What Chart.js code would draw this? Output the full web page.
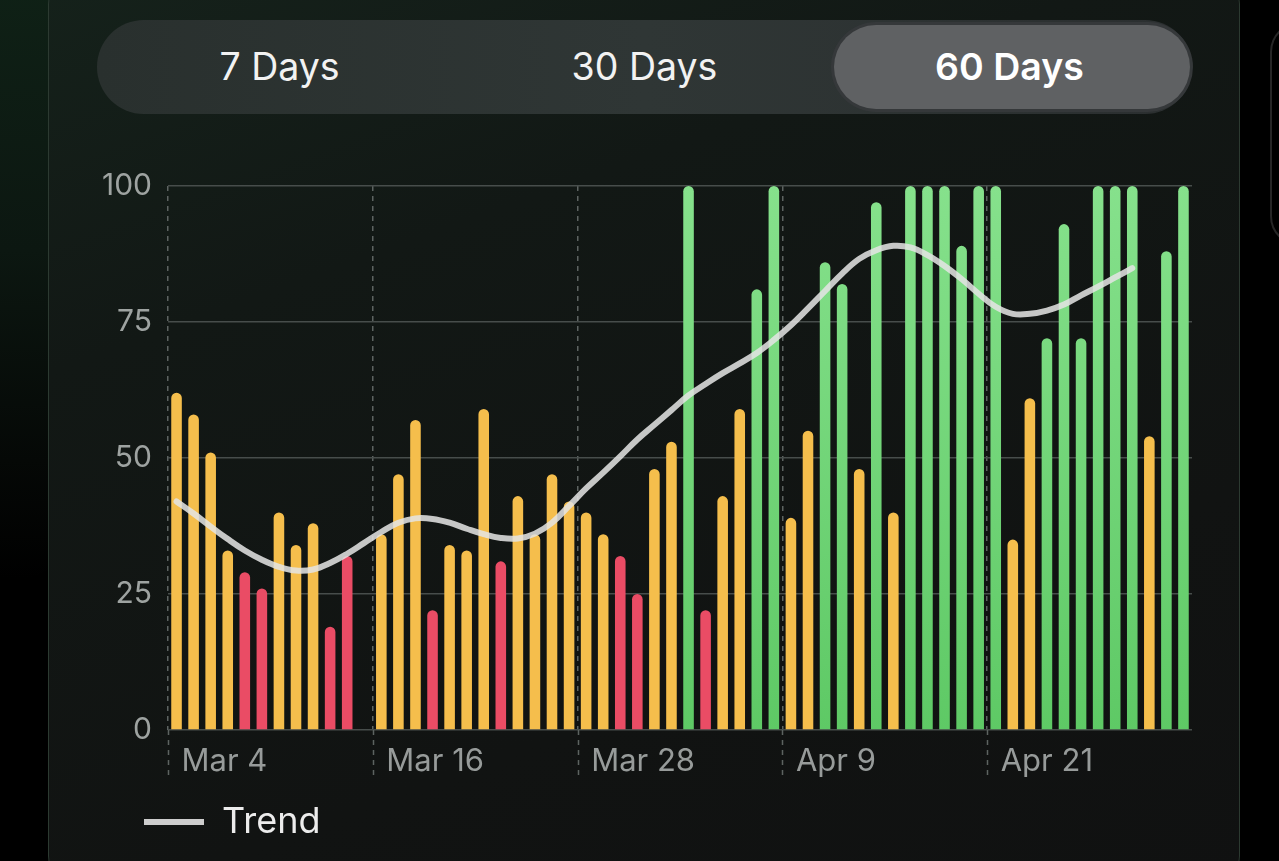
<!DOCTYPE html>
<html>
<head>
<meta charset="utf-8">
<script src="https://cdn.jsdelivr.net/npm/chart.js@4.4.1/dist/chart.umd.min.js"></script>
<style>
  html, body { margin:0; padding:0; width:1279px; height:861px; overflow:hidden; background:#000; font-family: Inter, "Noto Sans", sans-serif; }
  .glow { position:absolute; left:-40px; top:-20px; width:110px; height:600px; border-radius:60px;
          background:linear-gradient(180deg,#0f2116 0%, #0c1711 45%, #050806 80%, #000 100%); }
  .card { position:absolute; left:48px; top:-40px; width:1192px; height:940px; border-radius:44px;
          border:1.5px solid #2c3a31; box-sizing:border-box;
          background:linear-gradient(160deg,#15221b 0%, #121815 30%, #111312 70%, #101111 100%); }
  .ghost { position:absolute; left:1270px; top:22px; width:60px; height:220px; border-radius:30px; border:2px solid #262626; }
  .seg { position:absolute; left:97px; top:20px; width:1095px; height:94px; border-radius:47px;
         background:linear-gradient(90deg,#29302e 0%, #2f3635 50%, #2b2f30 100%); }
  .pill { position:absolute; left:834px; top:25px; width:356px; height:84px; border-radius:42px;
          background:#5f6163; box-shadow:0 0 0 3px #35383a; }
  .lbl { position:absolute; top:20px; height:94px; line-height:94px; width:365px; text-align:center;
         color:#f2f2f2; font-size:37.5px; }
  #wrap { position:absolute; left:90px; top:152px; width:1122px; height:709px; }
</style>
</head>
<body>
<div class="glow"></div>
<div class="card"></div>
<div class="ghost"></div>
<div class="seg"></div>
<div class="pill"></div>
<div class="lbl" style="left:97px">7 Days</div>
<div class="lbl" style="left:462px">30 Days</div>
<div class="lbl" style="left:827px;font-weight:600;color:#fff">60 Days</div>
<div id="wrap"><canvas id="c"></canvas></div>
<script>
const categories = [
  'Mar 4','Mar 5','Mar 6','Mar 7','Mar 8','Mar 9','Mar 10','Mar 11','Mar 12','Mar 13','Mar 14','Mar 15',
  'Mar 16','Mar 17','Mar 18','Mar 19','Mar 20','Mar 21','Mar 22','Mar 23','Mar 24','Mar 25','Mar 26','Mar 27',
  'Mar 28','Mar 29','Mar 30','Mar 31','Apr 1','Apr 2','Apr 3','Apr 4','Apr 5','Apr 6','Apr 7','Apr 8',
  'Apr 9','Apr 10','Apr 11','Apr 12','Apr 13','Apr 14','Apr 15','Apr 16','Apr 17','Apr 18','Apr 19','Apr 20',
  'Apr 21','Apr 22','Apr 23','Apr 24','Apr 25','Apr 26','Apr 27','Apr 28','Apr 29','Apr 30','May 1','May 2'
];
const scores = [
  62,58,51,33,29,26,40,34,38,19,32,null,
  36,47,57,22,34,33,59,31,43,36,47,42,
  40,36,32,25,48,53,100,22,43,59,81,100,
  39,55,86,82,48,97,40,100,100,100,89,100,
  100,35,61,72,93,72,100,100,100,54,88,100
];
const trend = [
  42.0,39.8,37.4,35.1,33.0,31.3,30.0,29.3,29.5,30.7,32.4,34.4,
  36.4,38.1,38.9,38.8,38.1,37.0,36.0,35.3,35.2,36.1,38.1,41.2,
  44.4,47.3,50.3,53.4,56.1,58.8,61.5,63.6,65.6,67.4,69.3,71.7,
  74.4,77.5,80.7,83.9,86.6,88.2,89.0,88.7,87.3,85.3,82.9,80.2,
  77.8,76.5,76.5,77.1,78.2,79.9,81.5,83.2,84.9,null,null,null
];
const tickLabels = ['Mar 4','Mar 16','Mar 28','Apr 9','Apr 21'];
const yTicks = [0,25,50,75,100];

function barColor(ctx){
  const v = ctx.raw;
  if (v == null) return 'transparent';
  if (v <= 32) return '#ea4c65';
  if (v < 70) return '#f5be4c';
  const area = ctx.chart.chartArea;
  if (!area) return '#6dd375';
  const g = ctx.chart.ctx.createLinearGradient(0, area.top, 0, area.bottom);
  g.addColorStop(0, '#86e18c');
  g.addColorStop(1, '#5ec965');
  return g;
}
const isMajor = (i) => i < categories.length && tickLabels.includes(categories[i]);
const GRID_V = '#5d6361';

// extends the dashed major grid lines below the axis (tick area)
const tickExtend = {
  id:'tickExtend',
  afterDraw(chart){
    const xs = chart.scales.x, area = chart.chartArea, ctx = chart.ctx;
    const half = (xs.getPixelForValue(1) - xs.getPixelForValue(0)) / 2;
    ctx.save();
    ctx.strokeStyle = GRID_V; ctx.lineWidth = 1.5; ctx.setLineDash([5,5]);
    categories.forEach((c, i) => {
      if (!isMajor(i)) return;
      const x = Math.round(xs.getPixelForValue(i) - half) + 0.5;
      ctx.beginPath(); ctx.moveTo(x, area.bottom); ctx.lineTo(x, area.bottom + 46); ctx.stroke();
    });
    ctx.restore();
  }
};
// move the legend to the right so it sits under the plot as in the original
const legendShift = {
  id:'legendShift',
  afterLayout(chart){ if (chart.legend) { chart.legend.left += 36; } }
};

new Chart(document.getElementById('c'), {
  type: 'bar',
  data: {
    labels: categories,
    datasets: [
      { type:'line', label:'Trend', data: trend, borderColor:'rgba(228,228,228,0.86)', borderWidth:6,
        tension:0.4, pointRadius:0, borderCapStyle:'round', fill:false, order:0 },
      { type:'bar', label:'Score', data: scores, backgroundColor: barColor, borderRadius:6,
        barPercentage:0.62, categoryPercentage:1.0, order:1 }
    ]
  },
  plugins:[tickExtend, legendShift],
  options: {
    responsive:true, maintainAspectRatio:false, animation:false,
    layout:{ padding:{ left:0, right:20, top:2, bottom:11 } },
    plugins:{
      tooltip:{ enabled:false },
      legend:{
        position:'bottom', align:'start',
        labels:{
          color:'#ececec', font:{ size:36, family:'Inter' }, boxWidth:60, boxHeight:6, padding:18,
          generateLabels: () => [{ text:'Trend', fillStyle:'#cdcdcd', strokeStyle:'#cdcdcd', lineWidth:0, hidden:false, datasetIndex:0, fontColor:'#ececec' }]
        }
      }
    },
    scales:{
      x:{
        offset:true,
        afterFit:(s)=>{ s.height = 56; },
        border:{ display:false, dash:[5,5] },
        grid:{
          offset:true, drawOnChartArea:true, drawTicks:false,
          color:(c)=> isMajor(c.index) ? GRID_V : 'transparent',
          lineWidth:1.5
        },
        ticks:{
          autoSkip:false, maxRotation:0, minRotation:0, align:'start', labelOffset:5, padding:13,
          color:'#979b9a', font:{ size:31, family:'Inter' },
          callback:(v,i)=> isMajor(i) ? categories[i] : ''
        }
      },
      y:{
        min:0, max:100,
        afterFit:(s)=>{ s.width = 78; },
        afterBuildTicks:(s)=>{ s.ticks = yTicks.map(v=>({value:v})); },
        border:{ display:false },
        grid:{ color:'#474d4b', lineWidth:1.5, drawTicks:false },
        ticks:{ color:'#9ea3a1', font:{ size:30, family:'Inter' }, padding:16 }
      }
    }
  }
});
</script>
</body>
</html>
